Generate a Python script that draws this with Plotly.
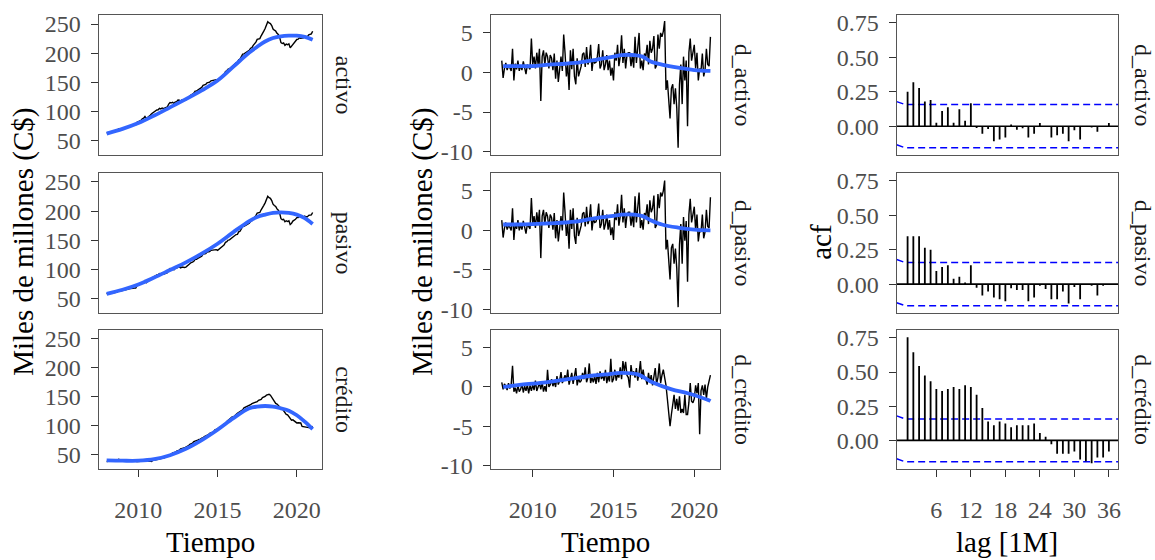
import numpy as np
import plotly.graph_objects as go

# ---------------- data ----------------
level_start = {"activo": 62.5, "pasivo": 58.0, "crédito": 38.0}   # Jan 2008

# monthly differences, Feb 2008 .. Jan 2021
d_activo = [
    1.5, -0.7, 0.5, 1.2, 0.3, 0.8, 0.6, 0.2, 3.0, -1.0, 1.1,
    0.4, 1.5, 0.2, 0.9, 0.3, 1.4, 0.5, -0.2, 1.0, 0.6, 0.4, 4.3,
    1.0, 2.0, 0.5, 2.5, 1.0, 3.0, -3.6, 2.0, 2.8, 1.0, 2.5, 2.0,
    0.5, 2.2, 1.8, 0.3, 2.4, -0.8, 1.5, -1.2, 1.0, 2.0, 0.2, 4.8,
    2.5, -0.5, 1.0, -2.2, 2.8, 0.4, 3.0, -0.5, -1.5, 1.8, -0.5, 0.2,
    0.8, 2.3, 2.5, 0.7, 3.2, 1.0, 1.6, 3.5, 0.2, 1.7, 1.2, 1.3,
    2.0, 3.6, 0.5, 1.0, 2.8, 0.3, 1.0, 2.2, 0.3, 1.5, -0.4, 0.6,
    -1.0, 2.5, 1.5, 3.5, 0.8, 2.0, 4.7, 1.2, 3.0, 0.5, 2.2, 2.5,
    2.5, 0.8, 2.2, 0.6, 4.5, 1.2, 3.5, 5.0, 0.5, 1.5, 0.3, 2.4,
    2.0, 3.5, 1.0, 4.0, 2.5, 3.0, 4.6, 0.5, 0.9, 4.8, 3.0, 5.0,
    4.5, 5.2, 6.5, -2.2, -1.0, -3.5, -5.8, -2.0, -1.5, -4.0, -2.0, -4.5,
    -9.5, -1.5, 1.0, -4.0, 2.0, -1.0, 1.5, -6.8, 2.5, 4.3, 1.5, 2.5,
    3.5, 0.5, 2.5, -1.0, 0.5, 0.2, 2.4, -0.5, 0.3, 3.0, 1.0, 0.8,
    4.5,
]
d_pasivo = [
    1.3, -0.9, 0.3, 1.0, 0.1, 0.6, 0.4, 0.0, 2.8, -1.2, 0.9,
    0.2, 1.3, 0.0, 0.7, 0.1, 1.2, 0.3, -0.4, 0.8, 0.4, 0.2, 4.1,
    0.8, 1.8, 0.3, 2.3, 0.8, 2.6, -3.5, 1.8, 2.6, 0.8, 2.3, 1.8,
    0.3, 2.0, 1.6, 0.1, 2.2, -1.0, 1.3, -1.4, 0.8, 1.8, 0.0, 4.8,
    2.3, -0.7, 0.8, -2.3, 2.6, 0.2, 2.8, -0.7, -1.7, 1.6, -0.7, 0.0,
    0.6, 2.1, 2.3, 0.5, 3.0, 0.8, 1.4, 3.3, 0.0, 1.5, 1.0, 1.1,
    1.8, 3.4, 0.3, 0.8, 2.6, 0.1, 0.8, 2.0, 0.1, 1.3, -0.6, 0.4,
    -1.2, 2.3, 1.3, 3.3, 0.6, 1.8, 4.5, 1.0, 2.8, 0.3, 2.0, 2.3,
    2.3, 0.6, 2.0, 0.4, 4.3, 1.0, 3.3, 4.8, 0.3, 1.3, 0.1, 2.2,
    1.8, 3.3, 0.8, 3.8, 2.3, 2.8, 4.4, 0.3, 0.7, 4.6, 2.8, 4.8,
    4.3, 5.0, 6.3, -2.4, -1.2, -3.8, -6.2, -2.2, -1.7, -4.2, -2.3, -4.8,
    -9.7, -1.8, 0.8, -4.2, 1.7, -1.3, 1.2, -6.5, 2.0, 4.0, 1.0, 2.0,
    3.0, 0.0, 2.0, -1.4, 0.0, -0.2, 2.0, -1.0, -0.2, 2.6, 0.5, 0.3,
    4.2,
]
d_credito = [
    0.6, -0.3, 0.4, 0.1, -0.4, 0.5, -0.2, 0.3, 2.7, -0.6, -0.1,
    -0.8, 0.2, -0.6, -0.3, 0.4, -0.7, 0.1, -0.5, 0.3, -0.8, 0.2, -0.5,
    0.3, -0.4, 0.8, -0.5, 0.2, 0.5, -0.3, 0.6, -0.6, 0.1, -0.6, 2.2,
    0.0, 0.3, 1.0, 0.1, 0.7, 0.0, 1.4, 0.3, 0.8, 1.9, 0.5, 1.0,
    1.5, 0.8, 2.2, 0.3, 1.0, 1.8, 0.4, 1.2, 2.4, 0.2, 1.1, 0.6,
    0.8, 1.8, 1.0, 2.5, 0.6, 1.2, 3.0, 0.5, 1.2, 0.6, 1.4, 0.4,
    1.8, 0.6, 2.0, 1.0, 1.5, 0.8, 2.2, 0.5, 1.4, 0.7, 3.6, 0.6,
    1.0, 2.2, 0.8, 1.6, 1.2, 2.5, 1.0, 3.3, 2.0, 3.2, 1.5, 1.2,
    -0.1, 2.8, 1.5, 2.0, 1.2, 2.4, 0.8, 1.8, 3.3, 1.0, 2.2, 1.1,
    1.0, 0.3, 1.8, 0.6, 1.5, 0.2, 1.2, 2.4, 0.4, 1.2, 3.0, 0.5,
    1.5, 2.2, 1.2, 0.2, -1.5, -3.2, -5.0, -3.5, -2.5, -1.0, -2.8, -1.5,
    -3.0, -1.2, -3.3, -2.8, -3.3, -1.0, -3.5, -3.5, -2.0, 0.5, -1.8, -2.0,
    -1.5, 0.2, -0.8, 0.5, -6.0, -0.5, 0.2, -1.0, 0.3, -1.5, 0.0, 1.0,
    1.5,
]

# loess-type smoothers (nodes)
sm_lvl_t = [2008.0, 2009, 2010, 2011, 2012, 2013, 2014, 2015, 2016, 2017, 2017.5, 2018, 2018.5, 2019, 2019.5, 2020, 2020.5, 2021]
sm_activo = [62, 70, 80, 93, 107, 121, 136, 153, 177, 201, 211, 220, 226, 229, 230, 230, 228, 223]
sm_pasivo = [58, 65, 74, 86, 99, 112, 127, 144, 164, 183, 190, 194, 197, 198, 197, 194, 188, 178]
sm_credito = [40, 39.5, 39.5, 42, 49, 60, 75, 93, 113, 130, 133, 134, 133, 130, 126, 118, 107, 94]

sm_d_t = [2008.17, 2009, 2010, 2011, 2012, 2012.6, 2013.9, 2015, 2015.5, 2016.3, 2016.8, 2017.3, 2018, 2019, 2020, 2021]
sm_d_activo = [0.8, 0.8, 0.8, 1.0, 1.1, 1.2, 1.6, 2.0, 2.2, 2.2, 2.0, 1.4, 1.0, 0.6, 0.3, 0.2]
sm_d_pasivo = [0.75, 0.75, 0.8, 0.9, 1.0, 1.1, 1.55, 1.85, 2.0, 2.0, 1.8, 1.3, 0.75, 0.35, 0.1, 0.0]
sm_dc_t = [2008.17, 2009.3, 2010.8, 2012.2, 2013.5, 2014.5, 2015.5, 2016.5, 2017.4, 2018.6, 2019.6, 2020.9, 2021]
sm_d_credito = [0.0, 0.3, 0.6, 1.0, 1.4, 1.6, 1.8, 1.6, 0.6, -0.3, -0.8, -1.7, -1.8]

lags = list(range(1, 37))
acf_activo = [0.25, 0.32, 0.278, 0.18, 0.19, 0.026, 0.11, 0.138, 0.026, 0.124, 0.04, 0.166,
              -0.012, -0.054, -0.02, -0.11, -0.096, -0.082, 0.012, -0.026, -0.014, -0.082, -0.054, 0.023,
              0.0, -0.082, -0.065, -0.054, -0.11, -0.03, -0.096, 0.0, -0.01, -0.04, 0.0, 0.023]
acf_pasivo = [0.348, 0.348, 0.348, 0.264, 0.25, 0.096, 0.124, 0.138, 0.04, 0.054, 0.012, 0.138,
              -0.026, -0.082, -0.054, -0.096, -0.11, -0.124, -0.03, -0.042, -0.042, -0.124, -0.096, -0.012,
              -0.035, -0.11, -0.11, -0.054, -0.14, -0.02, -0.11, 0.0, -0.012, -0.082, -0.012, 0.0]
acf_credito = [0.755, 0.645, 0.544, 0.474, 0.432, 0.376, 0.362, 0.376, 0.39, 0.376, 0.404, 0.39,
               0.334, 0.236, 0.138, 0.11, 0.138, 0.124, 0.096, 0.11, 0.11, 0.11, 0.124, 0.054,
               0.026, -0.028, -0.098, -0.098, -0.098, -0.082, -0.14, -0.152, -0.168, -0.126, -0.126, -0.082]

level_names = ["activo", "pasivo", "crédito"]
diff_names = ["d_activo", "d_pasivo", "d_crédito"]
diffs = [d_activo, d_pasivo, d_credito]
sm_levels = [sm_activo, sm_pasivo, sm_credito]
sm_diffs = [(sm_d_t, sm_d_activo), (sm_d_t, sm_d_pasivo), (sm_dc_t, sm_d_credito)]
acfs = [acf_activo, acf_pasivo, acf_credito]

# ---------------- figure ----------------
W, H = 1155, 560
FONT = "Liberation Serif"
cols_px = [(99, 323), (492, 722), (899, 1121)]
rows_px = [(11, 155), (173, 317), (334, 477)]
xranges = [[2007.5, 2021.6], [2007.4, 2021.6], [-0.9, 37.6]]
yranges = [[25, 266], [-10.45, 7.3], [-0.21, 0.81]]
ytick_vals = [[50, 100, 150, 200, 250], [-10, -5, 0, 5], [0, 0.25, 0.5, 0.75]]
ytick_text = [["50", "100", "150", "200", "250"], ["-10", "-5", "0", "5"], ["0.00", "0.25", "0.50", "0.75"]]
xtick_vals = [[2010, 2015, 2020], [2010, 2015, 2020], [6, 12, 18, 24, 30, 36]]

fig = go.Figure()
n_months = len(d_activo) + 1
t_level = 2008 + np.arange(n_months) / 12.0
t_diff = t_level[1:]
BLUE_SM = "#3366FF"

for r in range(3):
    name = level_names[r]
    d = np.array(diffs[r])
    lvl = level_start[name] + np.concatenate([[0.0], np.cumsum(d)])
    # column 1: levels
    k = r * 3 + 1
    fig.add_trace(go.Scatter(x=t_level, y=lvl, mode="lines", line=dict(color="black", width=1.4),
                             xaxis=f"x{k}", yaxis=f"y{k}", showlegend=False))
    fig.add_trace(go.Scatter(x=sm_lvl_t, y=sm_levels[r], mode="lines", line=dict(color=BLUE_SM, width=3.8, shape="spline"),
                             xaxis=f"x{k}", yaxis=f"y{k}", showlegend=False))
    # column 2: differences
    k = r * 3 + 2
    fig.add_trace(go.Scatter(x=t_diff, y=d, mode="lines", line=dict(color="black", width=1.4),
                             xaxis=f"x{k}", yaxis=f"y{k}", showlegend=False))
    st, sv = sm_diffs[r]
    fig.add_trace(go.Scatter(x=st, y=sv, mode="lines", line=dict(color=BLUE_SM, width=3.8, shape="spline"),
                             xaxis=f"x{k}", yaxis=f"y{k}", showlegend=False))
    # column 3: acf
    k = r * 3 + 3
    n = len(diffs[r])
    ci = 1.96 / np.sqrt(n)
    xr = xranges[2]
    for sgn in (1, -1):
        fig.add_trace(go.Scatter(x=[xr[0], 0.6, xr[1]], y=[sgn * ci + 0.022, sgn * ci, sgn * ci], mode="lines",
                                 line=dict(color="#0000FF", width=1.5, dash="7px,4px"),
                                 xaxis=f"x{k}", yaxis=f"y{k}", showlegend=False))
    fig.add_trace(go.Scatter(x=[xr[0], xr[1]], y=[0, 0], mode="lines", line=dict(color="black", width=1.6),
                             xaxis=f"x{k}", yaxis=f"y{k}", showlegend=False))
    bx, by = [], []
    for lag, v in zip(lags, acfs[r]):
        bx += [lag, lag, None]
        by += [0, v, None]
    fig.add_trace(go.Scatter(x=bx, y=by, mode="lines", line=dict(color="black", width=1.8),
                             xaxis=f"x{k}", yaxis=f"y{k}", showlegend=False))

TICK_FONT = dict(family=FONT, size=24, color="#4D4D4D")
layout = {}
for r in range(3):
    for c in range(3):
        k = r * 3 + c + 1
        x0, x1 = cols_px[c]
        y0, y1 = rows_px[r]
        bottom = (r == 2)
        layout[f"xaxis{k}"] = dict(
            domain=[x0 / W, x1 / W], anchor=f"y{k}", range=xranges[c],
            showline=True, mirror=True, linecolor="#555555", linewidth=1.3,
            showgrid=False, zeroline=False,
            tickmode="array", tickvals=xtick_vals[c],
            ticks="outside" if bottom else "", ticklen=7, tickwidth=1.3, tickcolor="#333333",
            showticklabels=bottom, tickfont=TICK_FONT, ticklabelstandoff=12,
        )
        layout[f"yaxis{k}"] = dict(
            domain=[1 - y1 / H, 1 - y0 / H], anchor=f"x{k}", range=yranges[c],
            showline=True, mirror=True, linecolor="#555555", linewidth=1.3,
            showgrid=False, zeroline=False,
            tickmode="array", tickvals=ytick_vals[c], ticktext=ytick_text[c],
            ticks="outside", ticklen=7, tickwidth=1.3, tickcolor="#333333",
            tickfont=TICK_FONT, ticklabelstandoff=5,
        )

annotations = []
strip_x = [345, 745, 1146]
strip_labels = [level_names, diff_names, diff_names]
for c in range(3):
    for r in range(3):
        yc = (rows_px[r][0] + rows_px[r][1]) / 2
        annotations.append(dict(x=strip_x[c] / W, y=1 - yc / H, xref="paper", yref="paper",
                                text=strip_labels[c][r], showarrow=False, textangle=90,
                                font=dict(family=FONT, size=24, color="#1A1A1A"),
                                xanchor="center", yanchor="middle"))
ymid = (rows_px[0][0] + rows_px[2][1]) / 2
for xc, txt in [(24, "Miles de millones (C$)"), (424, "Miles de millones (C$)"), (823, "acf")]:
    annotations.append(dict(x=xc / W, y=1 - ymid / H, xref="paper", yref="paper", text=txt,
                            showarrow=False, textangle=-90, font=dict(family=FONT, size=29, color="black"),
                            xanchor="center", yanchor="middle"))
for c, txt in enumerate(["Tiempo", "Tiempo", "lag [1M]"]):
    xc = (cols_px[c][0] + cols_px[c][1]) / 2
    annotations.append(dict(x=xc / W, y=1 - 552 / H, xref="paper", yref="paper", text=txt,
                            showarrow=False, font=dict(family=FONT, size=29, color="black"),
                            xanchor="center", yanchor="middle"))

fig.update_layout(width=W, height=H, margin=dict(l=0, r=0, t=0, b=0),
                  paper_bgcolor="white", plot_bgcolor="white",
                  annotations=annotations, **layout)
fig.write_html("out.html", config={"displayModeBar": False},
               post_script="document.body.style.margin='0';document.body.style.overflow='hidden';")
